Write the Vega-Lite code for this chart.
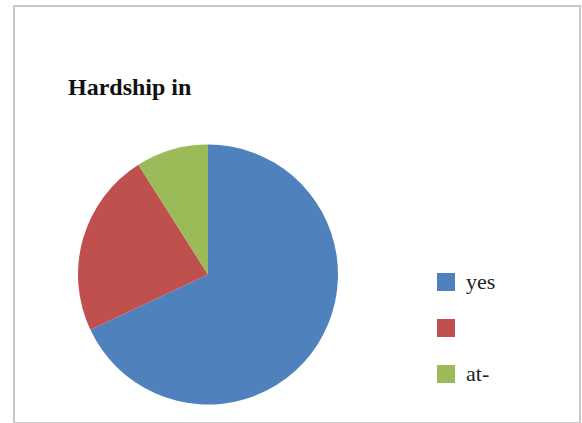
{
  "$schema": "https://vega.github.io/schema/vega-lite/v6.json",
  "autosize": {"type": "none"},
  "width": 566,
  "height": 417,
  "padding": {"left": 14, "top": 6, "right": 2, "bottom": 0},
  "background": "white",
  "view": {"stroke": "#c8c8c8", "strokeWidth": 2, "fill": "white"},
  "title": {
    "text": "Hardship in",
    "font": "Liberation Serif",
    "fontSize": 24,
    "fontWeight": "bold",
    "color": "#111111",
    "anchor": "start",
    "orient": "top",
    "baseline": "alphabetic",
    "offset": 0,
    "dx": 54,
    "dy": 113
  },
  "data": {
    "values": [
      {"answer": "yes", "share": 68, "order": 1},
      {"answer": "", "share": 23, "order": 2},
      {"answer": "at-", "share": 9, "order": 3}
    ]
  },
  "mark": {"type": "arc", "radius": 130, "xOffset": -89, "yOffset": 60},
  "encoding": {
    "theta": {"field": "share", "type": "quantitative", "stack": true},
    "order": {"field": "order", "type": "quantitative"},
    "color": {
      "field": "answer",
      "type": "nominal",
      "scale": {"domain": ["yes", "", "at-"], "range": ["#4f81bd", "#c0504d", "#9bbb59"]},
      "legend": {
        "title": null,
        "orient": "none",
        "legendX": 421,
        "legendY": 265,
        "symbolType": "square",
        "symbolSize": 324,
        "symbolStrokeWidth": 0,
        "symbolOpacity": 1,
        "labelFont": "'Liberation Serif', 'DejaVu Serif', serif",
        "labelFontSize": 22,
        "labelColor": "#222222",
        "labelOffset": 9,
        "rowPadding": 24,
        "padding": 0
      }
    }
  }
}
